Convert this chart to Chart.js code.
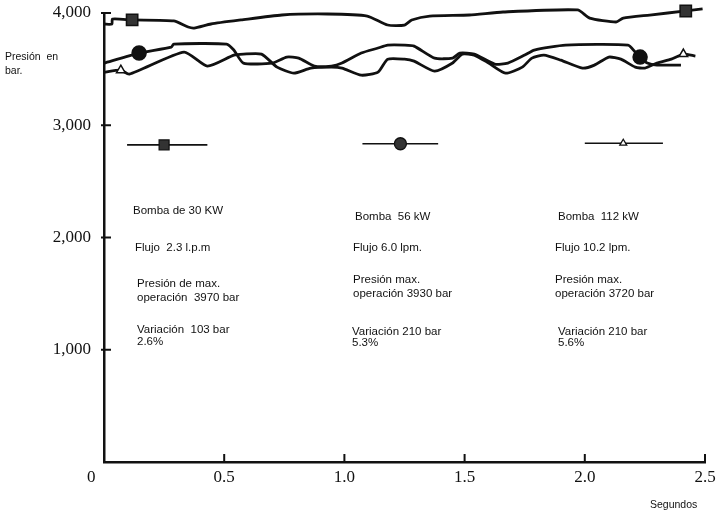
<!DOCTYPE html>
<html>
<head>
<meta charset="utf-8">
<script src="https://cdn.jsdelivr.net/npm/chart.js@4"></script>
<style>
  html, body { margin: 0; padding: 0; background: #fff; }
  #wrap { width: 716px; height: 516px; }
</style>
</head>
<body>
<div id="wrap"><canvas id="pressureChart"></canvas></div>
<script>
// tiempo (s) y presión (bar) de cada bomba
const t30 = [0, 0.033, 0.035, 0.117, 0.29, 0.35, 0.375, 0.445, 0.57, 0.74, 0.93, 1.095, 1.18, 1.25, 1.28, 1.355, 1.52, 1.66, 1.97, 2.02, 2.13, 2.16, 2.27, 2.42, 2.49];
const p30 = [3902, 3902, 3946, 3938, 3929, 3875, 3866, 3902, 3938, 3982, 3991, 3973, 3893, 3893, 3938, 3973, 3982, 4009, 4027, 3955, 3920, 3955, 3982, 4018, 4036];
const mark30 = [3, 23];

const t56 = [0, 0.146, 0.28, 0.29, 0.51, 0.54, 0.58, 0.70, 0.76, 0.81, 0.875, 0.946, 0.99, 1.07, 1.14, 1.18, 1.25, 1.29, 1.375, 1.45, 1.48, 1.54, 1.625, 1.68, 1.75, 1.79, 1.92, 2.18, 2.21, 2.23, 2.26, 2.30, 2.40];
const p56 = [3554, 3643, 3696, 3723, 3723, 3670, 3554, 3554, 3607, 3598, 3527, 3527, 3554, 3643, 3688, 3714, 3714, 3705, 3598, 3598, 3643, 3634, 3545, 3554, 3625, 3670, 3714, 3714, 3652, 3607, 3554, 3536, 3536];
const mark56 = [1, 29];

const t112 = [0, 0.07, 0.105, 0.333, 0.43, 0.54, 0.58, 0.655, 0.72, 0.79, 0.86, 0.946, 0.99, 1.07, 1.14, 1.18, 1.25, 1.29, 1.375, 1.45, 1.49, 1.54, 1.60, 1.67, 1.74, 1.78, 1.83, 1.90, 1.99, 2.04, 2.10, 2.15, 2.21, 2.25, 2.30, 2.36, 2.41, 2.46];
const p112 = [3473, 3491, 3455, 3652, 3527, 3625, 3634, 3634, 3518, 3464, 3509, 3518, 3509, 3446, 3473, 3589, 3589, 3571, 3482, 3554, 3634, 3625, 3554, 3464, 3518, 3598, 3625, 3580, 3509, 3536, 3607, 3589, 3518, 3509, 3554, 3589, 3634, 3616];
const mark112 = [1, 36];

// segmentos de referencia (clave) junto a cada bloque de texto
const keyT30 = [0.096, 0.25, 0.43];
const keyP30 = [2825, 2825, 2825];
const keyT56 = [1.075, 1.233, 1.39];
const keyP56 = [2835, 2835, 2835];
const keyT112 = [2.0, 2.16, 2.325];
const keyP112 = [2840, 2840, 2840];

const xTicks = [0, 0.5, 1.0, 1.5, 2.0, 2.5];
const yTicks = [1000, 2000, 3000, 4000];

const notes30 = ['Bomba de 30 KW', 'Flujo  2.3 l.p.m', 'Presión de max.', 'operación  3970 bar', 'Variación  103 bar', '2.6%'];
const notes56 = ['Bomba  56 kW', 'Flujo 6.0 lpm.', 'Presión max.', 'operación 3930 bar', 'Variación 210 bar', '5.3%'];
const notes112 = ['Bomba  112 kW', 'Flujo 10.2 lpm.', 'Presión max.', 'operación 3720 bar', 'Variación 210 bar', '5.6%'];

const pts = (xs, ys) => xs.map((x, i) => ({ x: x, y: ys[i] }));

function series(xs, ys, marks, style, radius, fill) {
    return {
        data: pts(xs, ys),
        borderColor: '#111',
        borderWidth: 2.8,
        tension: 0.2,
        clip: false,
        pointStyle: style,
        pointRadius: c => marks.includes(c.dataIndex) ? radius : 0,
        pointBackgroundColor: fill,
        pointBorderColor: '#111',
        pointBorderWidth: 1.5,
    };
}

function keyLine(xs, ys, style, radius, fill) {
    return {
        data: pts(xs, ys),
        borderColor: '#111',
        borderWidth: 1.6,
        tension: 0,
        pointStyle: style,
        pointRadius: c => c.dataIndex === 1 ? radius : 0,
        pointBackgroundColor: fill,
        pointBorderColor: '#111',
        pointBorderWidth: 1.3,
    };
}

// marcas de division hacia dentro del area
const innerTicks = {
    id: 'innerTicks',
    afterDraw(chart) {
        const { ctx, chartArea, scales } = chart;
        ctx.save();
        ctx.strokeStyle = '#111';
        ctx.lineWidth = 2;
        xTicks.forEach(v => {
            if (v === 0) return;
            const px = scales.x.getPixelForValue(v);
            ctx.beginPath();
            ctx.moveTo(px, chartArea.bottom);
            ctx.lineTo(px, chartArea.bottom - 8);
            ctx.stroke();
        });
        yTicks.forEach(v => {
            const py = scales.y.getPixelForValue(v);
            ctx.beginPath();
            ctx.moveTo(chartArea.left - 3, py);
            ctx.lineTo(chartArea.left + 7, py);
            ctx.stroke();
        });
        ctx.restore();
    }
};

const notesPlugin = {
    id: 'notes',
    afterDraw(chart) {
        const ctx = chart.ctx;
        const blocks = [
            { lines: notes30, xs: [133, 135, 137, 137, 137, 137], ys: [211, 248, 284, 298, 330, 342] },
            { lines: notes56, xs: [355, 353, 353, 353, 352, 352], ys: [217, 248, 280, 294, 332, 343] },
            { lines: notes112, xs: [558, 555, 555, 555, 558, 558], ys: [217, 248, 280, 294, 332, 343] },
        ];
        ctx.save();
        ctx.fillStyle = '#111';
        ctx.textBaseline = 'middle';
        ctx.textAlign = 'left';
        ctx.font = '11.5px "Liberation Sans", Arial, sans-serif';
        blocks.forEach(b => b.lines.forEach((s, i) => ctx.fillText(s, b.xs[i], b.ys[i])));
        ctx.font = '10.5px "Liberation Sans", Arial, sans-serif';
        ctx.fillText('Presión  en', 5, 57);
        ctx.fillText('bar.', 5, 71);
        ctx.fillText('Segundos', 650, 505);
        ctx.restore();
    }
};

const chart = new Chart(document.getElementById('pressureChart'), {
    type: 'line',
    data: {
        datasets: [
            series(t30, p30, mark30, 'rect', 8, '#333'),
            series(t56, p56, mark56, 'circle', 7, '#111'),
            series(t112, p112, mark112, 'triangle', 5, '#fff'),
            keyLine(keyT30, keyP30, 'rect', 7, '#333'),
            keyLine(keyT56, keyP56, 'circle', 6, '#333'),
            keyLine(keyT112, keyP112, 'triangle', 4, '#fff'),
        ],
    },
    options: {
        responsive: true,
        maintainAspectRatio: false,
        animation: false,
        layout: { padding: { top: 13, right: 11, left: 0, bottom: 0 } },
        plugins: { legend: { display: false }, tooltip: { enabled: false } },
        scales: {
            x: {
                type: 'linear',
                min: 0,
                max: 2.5,
                afterBuildTicks: s => { s.ticks = xTicks.map(v => ({ value: v })); },
                afterFit: s => { s.height = 54; s.paddingLeft = 0; s.paddingRight = 0; },
                grid: { display: false, drawTicks: false },
                border: { color: '#111', width: 2.5 },
                ticks: {
                    color: '#111',
                    padding: 5,
                    maxRotation: 0,
                    font: { family: '"Liberation Serif", "Times New Roman", serif', size: 17 },
                    callback: v => v === 0 ? '0\u00a0\u00a0\u00a0\u00a0\u00a0\u00a0' : v.toFixed(1),
                },
            },
            y: {
                min: 0,
                max: 4000,
                afterBuildTicks: s => { s.ticks = yTicks.map(v => ({ value: v })); },
                afterFit: s => { s.width = 104; s.paddingTop = 0; s.paddingBottom = 0; },
                grid: { display: false, drawTicks: false },
                border: { color: '#111', width: 2.5 },
                ticks: {
                    color: '#111',
                    padding: 13,
                    font: { family: '"Liberation Serif", "Times New Roman", serif', size: 17 },
                    callback: v => v.toLocaleString('en-US'),
                },
            },
        },
    },
    plugins: [innerTicks, notesPlugin],
});
</script>
</body>
</html>
